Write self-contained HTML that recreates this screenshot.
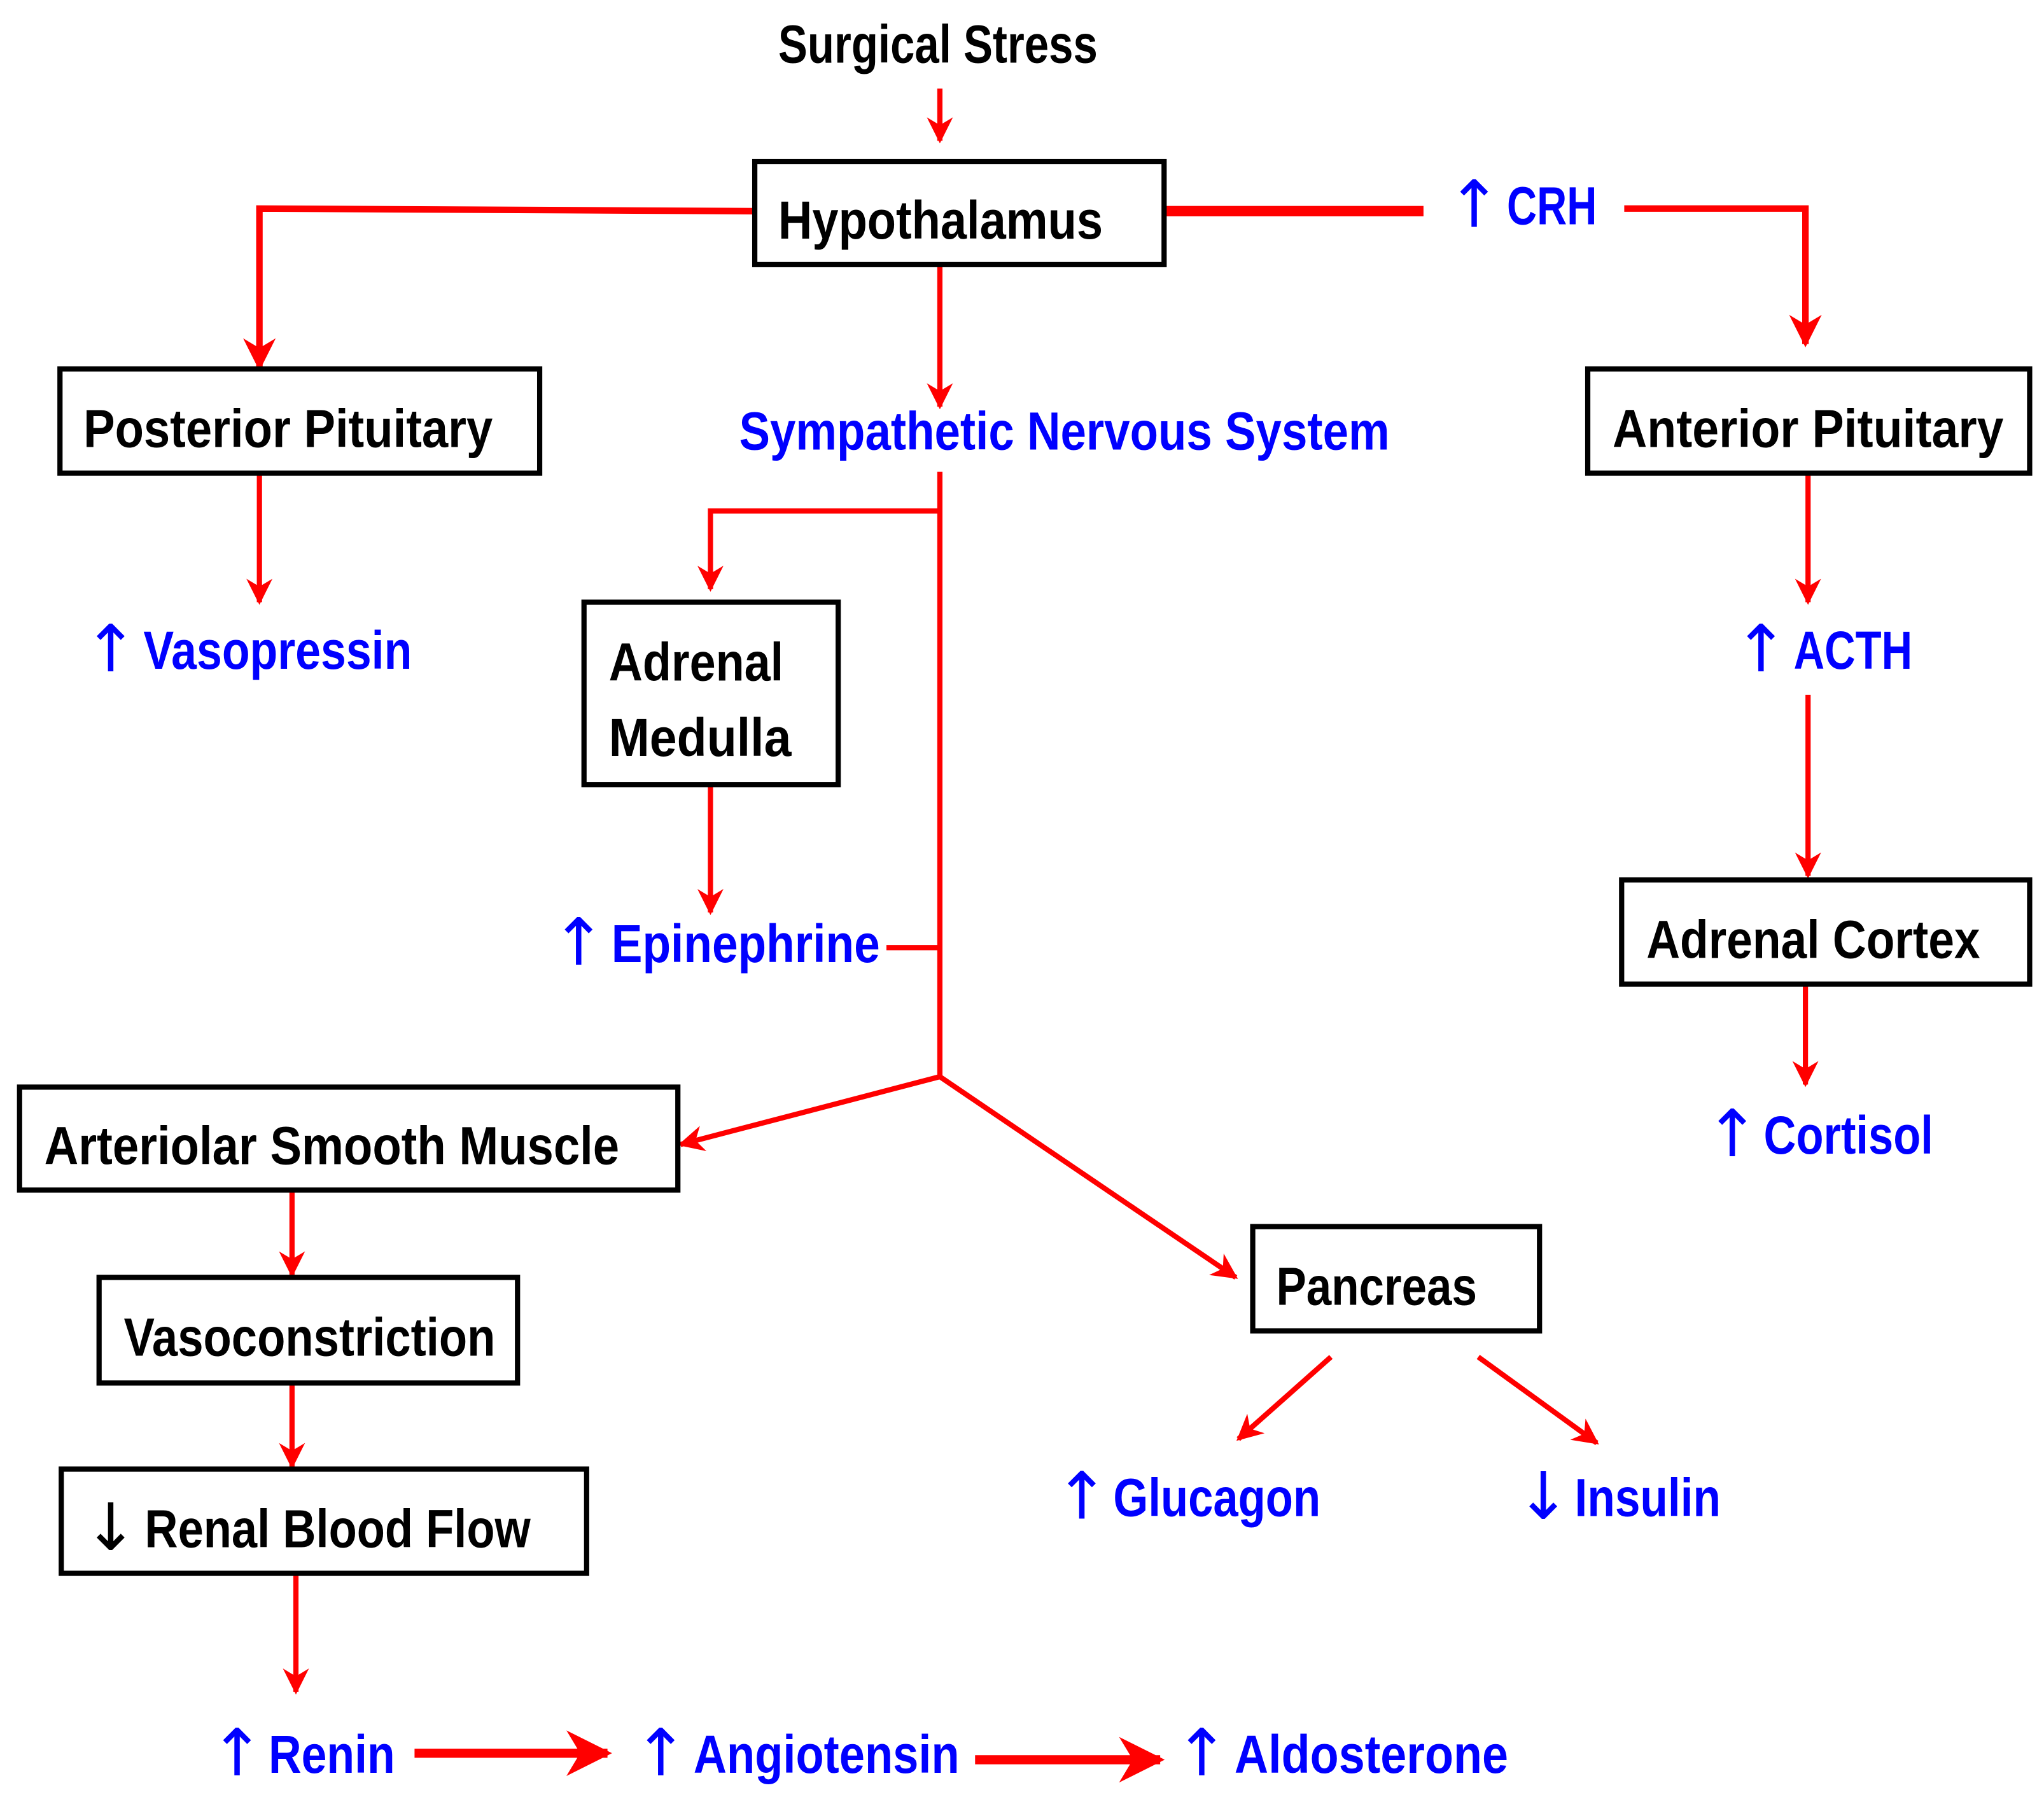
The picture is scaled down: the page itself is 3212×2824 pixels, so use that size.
<!DOCTYPE html>
<html><head><meta charset="utf-8"><style>
html,body{margin:0;padding:0;background:#fff;}
svg{display:block;}
text{font-family:"Liberation Sans","DejaVu Sans",sans-serif;font-weight:bold;font-size:41px;}
.k{fill:#000}.b{fill:#0000ff}
.ar{font-size:50px;font-weight:normal;font-family:"DejaVu Sans",sans-serif;}
</style></head><body>
<svg width="3212" height="2824" viewBox="0 0 1568 1378.6" xmlns="http://www.w3.org/2000/svg">
<defs>
<marker id="a" viewBox="0 0 10 10" refX="9" refY="5" markerWidth="5" markerHeight="5" orient="auto" markerUnits="strokeWidth">
<path d="M0,0 L10,5 L0,10 L3,5 Z" fill="#ff0000"/>
</marker>
</defs>
<g fill="none" stroke="#ff0000" stroke-width="4">
<line x1="721" y1="68" x2="721" y2="108" marker-end="url(#a)"/>
<polyline points="579,162 199,160 199,282" marker-end="url(#a)" stroke-width="5"/>
<line x1="893" y1="162" x2="1092" y2="162" stroke-width="8"/>
<polyline points="1246,160 1385,160 1385,264" marker-end="url(#a)" stroke-width="5"/>
<line x1="721" y1="203" x2="721" y2="312" marker-end="url(#a)"/>
<line x1="199" y1="363" x2="199" y2="462" marker-end="url(#a)"/>
<line x1="721" y1="362" x2="721" y2="826"/>
<polyline points="721,392 545,392 545,452" marker-end="url(#a)"/>
<line x1="545" y1="602" x2="545" y2="700" marker-end="url(#a)"/>
<line x1="680" y1="727" x2="721" y2="727"/>
<line x1="721" y1="826" x2="522" y2="878" marker-end="url(#a)"/>
<line x1="721" y1="826" x2="948" y2="980" marker-end="url(#a)"/>
<line x1="224" y1="913" x2="224" y2="978" marker-end="url(#a)"/>
<line x1="224" y1="1061" x2="224" y2="1125" marker-end="url(#a)"/>
<line x1="227" y1="1207" x2="227" y2="1298" marker-end="url(#a)"/>
<line x1="318" y1="1345" x2="466" y2="1345" stroke-width="7" marker-end="url(#a)"/>
<line x1="748" y1="1350" x2="890" y2="1350" stroke-width="7" marker-end="url(#a)"/>
<line x1="1021" y1="1041" x2="950" y2="1104" marker-end="url(#a)"/>
<line x1="1134" y1="1041" x2="1225" y2="1107" marker-end="url(#a)"/>
<line x1="1387" y1="363" x2="1387" y2="462" marker-end="url(#a)"/>
<line x1="1387" y1="533" x2="1387" y2="672" marker-end="url(#a)"/>
<line x1="1385" y1="755" x2="1385" y2="832" marker-end="url(#a)"/>
</g>
<g fill="#fff" stroke="#000" stroke-width="4">
<rect x="579" y="124" width="314" height="79"/>
<rect x="46" y="283" width="368" height="80"/>
<rect x="1218" y="283" width="339" height="80"/>
<rect x="448" y="462" width="195" height="140"/>
<rect x="1244" y="675" width="313" height="80"/>
<rect x="15" y="834" width="505" height="79"/>
<rect x="76" y="980" width="321" height="81"/>
<rect x="47" y="1127" width="403" height="80"/>
<rect x="961" y="941" width="220" height="80"/>
</g>
<g>
<text class="k" x="597" y="48" textLength="245" lengthAdjust="spacingAndGlyphs">Surgical Stress</text>
<text class="k" x="597" y="183" textLength="249" lengthAdjust="spacingAndGlyphs">Hypothalamus</text>
<text class="b ar" x="1110" y="174">↑</text><text class="b" x="1156" y="172" textLength="69" lengthAdjust="spacingAndGlyphs">CRH</text>
<text class="k" x="64" y="343" textLength="314" lengthAdjust="spacingAndGlyphs">Posterior Pituitary</text>
<text class="b" x="567" y="345" textLength="499" lengthAdjust="spacingAndGlyphs">Sympathetic Nervous System</text>
<text class="k" x="1237" y="343" textLength="300" lengthAdjust="spacingAndGlyphs">Anterior Pituitary</text>
<text class="b ar" x="64" y="515">↑</text><text class="b" x="110" y="513" textLength="206" lengthAdjust="spacingAndGlyphs">Vasopressin</text>
<text class="k" x="467" y="522" textLength="134" lengthAdjust="spacingAndGlyphs">Adrenal</text>
<text class="k" x="467" y="580" textLength="140" lengthAdjust="spacingAndGlyphs">Medulla</text>
<text class="b ar" x="1330" y="515">↑</text><text class="b" x="1376" y="513" textLength="91" lengthAdjust="spacingAndGlyphs">ACTH</text>
<text class="b ar" x="423" y="740">↑</text><text class="b" x="469" y="738" textLength="206" lengthAdjust="spacingAndGlyphs">Epinephrine</text>
<text class="k" x="1263" y="735" textLength="256" lengthAdjust="spacingAndGlyphs">Adrenal Cortex</text>
<text class="b ar" x="1308" y="887">↑</text><text class="b" x="1353" y="885" textLength="130" lengthAdjust="spacingAndGlyphs">Cortisol</text>
<text class="k" x="34" y="893" textLength="441" lengthAdjust="spacingAndGlyphs">Arteriolar Smooth Muscle</text>
<text class="k" x="979" y="1001" textLength="154" lengthAdjust="spacingAndGlyphs">Pancreas</text>
<text class="k" x="95" y="1040" textLength="285" lengthAdjust="spacingAndGlyphs">Vasoconstriction</text>
<text class="b ar" x="809" y="1165">↑</text><text class="b" x="854" y="1163" textLength="159" lengthAdjust="spacingAndGlyphs">Glucagon</text>
<text class="b ar" x="1163" y="1165">↓</text><text class="b" x="1208" y="1163" textLength="112" lengthAdjust="spacingAndGlyphs">Insulin</text>
<text class="k ar" x="64" y="1189">↓</text><text class="k" x="111" y="1187" textLength="296" lengthAdjust="spacingAndGlyphs">Renal Blood Flow</text>
<text class="b ar" x="161" y="1362">↑</text><text class="b" x="206" y="1360" textLength="97" lengthAdjust="spacingAndGlyphs">Renin</text>
<text class="b ar" x="486" y="1362">↑</text><text class="b" x="532" y="1360" textLength="204" lengthAdjust="spacingAndGlyphs">Angiotensin</text>
<text class="b ar" x="901" y="1362">↑</text><text class="b" x="947" y="1360" textLength="210" lengthAdjust="spacingAndGlyphs">Aldosterone</text>
</g>
</svg>
</body></html>
